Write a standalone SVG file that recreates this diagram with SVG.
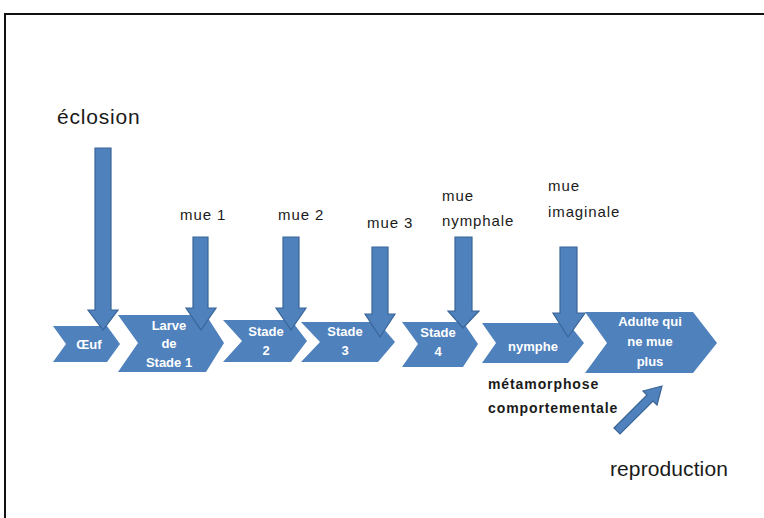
<svg xmlns="http://www.w3.org/2000/svg" width="764" height="518" viewBox="0 0 764 518">
<style>
.chev{fill:#4F81BD;}
.arr{fill:#4F81BD;stroke:#3A6597;stroke-width:1.2;}
.in{font-family:"Liberation Sans",Arial,sans-serif;font-size:13px;font-weight:bold;fill:#ffffff;text-anchor:middle;}
.lbl{font-family:"Liberation Sans",Arial,sans-serif;font-size:15px;letter-spacing:0.9px;fill:#1a1a1a;}
.big{font-family:"Liberation Sans",Arial,sans-serif;font-size:21px;letter-spacing:0.8px;fill:#1a1a1a;}
.bold{font-family:"Liberation Sans",Arial,sans-serif;font-size:14px;font-weight:bold;letter-spacing:0.9px;fill:#1a1a1a;}
</style>
<rect width="764" height="518" fill="#ffffff"/>
<path d="M5 518 V14 H764" fill="none" stroke="#111" stroke-width="2"/>

<g id="oeuf"><polygon class="chev" points="53,326 107,326 120,344 107,362 53,362 66,344"/><text class="in" x="89" y="349">Œuf</text></g>
<g id="larve"><polygon class="chev" points="118,315 206,315 224,343 206,372 118,372 138,343"/><text class="in" x="169" y="330">Larve</text><text class="in" x="169" y="348">de</text><text class="in" x="169" y="367">Stade 1</text></g>
<g id="stade2"><polygon class="chev" points="223,320 291,320 307,341 291,362 223,362 242,341"/><text class="in" x="266" y="336">Stade</text><text class="in" x="266" y="355">2</text></g>
<g id="stade3"><polygon class="chev" points="301,322 378,322 395,342 378,362 301,362 320,342"/><text class="in" x="345" y="336">Stade</text><text class="in" x="345" y="355">3</text></g>
<g id="stade4"><polygon class="chev" points="402,322 463,322 478,344 463,367 402,367 418,344"/><text class="in" x="438" y="337">Stade</text><text class="in" x="438" y="356">4</text></g>
<g id="nymphe"><polygon class="chev" points="482,323 568,323 584,343 568,363 482,363 496,343"/><text class="in" x="533" y="351">nymphe</text></g>
<g id="adulte"><polygon class="chev" points="585,312 693,312 717,343 693,373 585,373 607,343"/><text class="in" x="650" y="326">Adulte qui</text><text class="in" x="650" y="346">ne mue</text><text class="in" x="650" y="366">plus</text></g>

<g id="connectors">
<polygon class="arr" points="95,148 111,148 111,310 118,310 103,330 88,310 95,310"/>
<polygon class="arr" points="193,237 208,237 208,308 216,308 201,330 186,308 193,308"/>
<polygon class="arr" points="283,237 299,237 299,308 306,308 291,330 276,308 283,308"/>
<polygon class="arr" points="372,247 388,247 388,314 395,314 380,337 365,314 372,314"/>
<polygon class="arr" points="455,237 472,237 472,311 479,311 463,328 448,311 455,311"/>
<polygon class="arr" points="560,247 577,247 577,313 585,313 568,337 553,313 560,313"/>
<polygon class="arr" points="614,428 647,395 643,391 662,386 657,405 653,401 620,434"/>
</g>

<g id="labels">
<text class="big" x="57" y="124">éclosion</text>
<text class="lbl" x="180" y="220">mue 1</text>
<text class="lbl" x="278" y="220">mue 2</text>
<text class="lbl" x="367" y="228">mue 3</text>
<text class="lbl" x="442" y="201">mue</text>
<text class="lbl" x="442" y="226">nymphale</text>
<text class="lbl" x="548" y="191">mue</text>
<text class="lbl" x="548" y="217">imaginale</text>
<text class="bold" x="488" y="389">métamorphose</text>
<text class="bold" x="488" y="413">comportementale</text>
<text class="big" x="610" y="476" style="letter-spacing:0.1px">reproduction</text>
</g>
</svg>
